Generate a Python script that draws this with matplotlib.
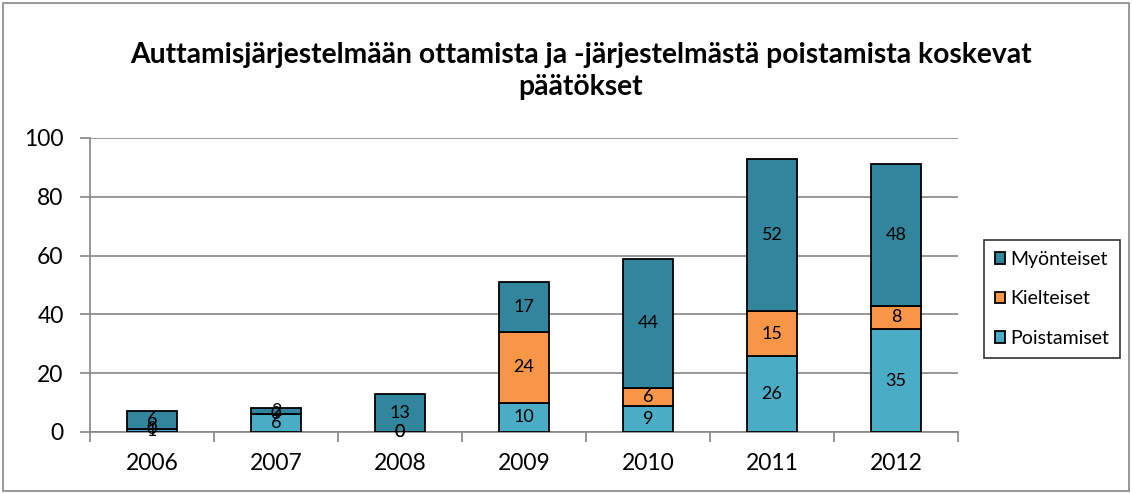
import matplotlib
matplotlib.use("Agg")
import matplotlib.pyplot as plt
import numpy as np

years = ["2006", "2007", "2008", "2009", "2010", "2011", "2012"]
poistamiset = [1, 6, 0, 10, 9, 26, 35]
kielteiset = [0, 0, 0, 24, 6, 15, 8]
myonteiset = [6, 2, 13, 17, 44, 52, 48]
series_names = ["Poistamiset", "Kielteiset", "Myönteiset"]
colors = ["#4BACC6", "#F79646", "#31859C"]
title = "Auttamisjärjestelmään ottamista ja -järjestelmästä poistamista koskevat\npäätökset"

plt.rcParams['font.family'] = ['Lato', 'DejaVu Sans']

fig = plt.figure(figsize=(11.32, 4.93), dpi=100)
ax = fig.add_axes([90/1132, 1-432/493, (958-90)/1132, (432-138)/493])

x = np.arange(len(years))
bottom = np.zeros(len(years))
bars = []
for vals, c, name in zip([poistamiset, kielteiset, myonteiset], colors, series_names):
    b = ax.bar(x, vals, 0.41, bottom=bottom, color=c, edgecolor="black", linewidth=1.3, label=name, zorder=3)
    for xi, v, b0 in zip(x, vals, bottom):
        ax.text(xi, b0 + v/2, str(v), ha="center", va="center", fontsize=13, zorder=4)
    bars.append(b)
    bottom = bottom + np.array(vals)

ax.set_xlim(-0.5, len(years)-0.5)
ax.set_ylim(0, 100)
ax.set_yticks(range(0, 101, 20))
ax.set_xticks(x)
ax.set_xticklabels(years)
ax.set_xticks(np.arange(-0.5, len(years), 1), minor=True)
ax.tick_params(axis="x", which="major", length=0, labelsize=16.5, pad=15)
ax.tick_params(axis="x", which="minor", length=7, color="#868686", width=1.2, direction="out")
ax.tick_params(axis="y", length=7, color="#868686", width=1.2, labelsize=16.5, pad=12, direction="out")
ax.grid(axis="y", color="#868686", linewidth=1.2, zorder=0)
for s in ["top", "right"]:
    ax.spines[s].set_visible(False)
for s in ["left", "bottom"]:
    ax.spines[s].set_color("#868686")
    ax.spines[s].set_linewidth(1.2)

fig.text(581/1132, 1-71/493, title, ha="center", va="center", fontsize=20.3, fontweight="bold", linespacing=1.25)

handles = [bars[2], bars[1], bars[0]]
leg = fig.legend(handles, [series_names[2], series_names[1], series_names[0]],
                 loc="center left", bbox_to_anchor=(984/1132, 1-299/493),
                 frameon=True, fancybox=False, edgecolor="black", fontsize=14,
                 handlelength=0.55, handleheight=0.55, handletextpad=0.25, labelspacing=1.15,
                 borderpad=0.55, borderaxespad=0)
leg.get_frame().set_linewidth(1.2)

border = plt.Rectangle((0.003, 0.004), 0.994, 0.99, transform=fig.transFigure, fill=False,
                       edgecolor="#868686", linewidth=1.2)
fig.patches.append(border)

fig.savefig("out.png", dpi=100)
